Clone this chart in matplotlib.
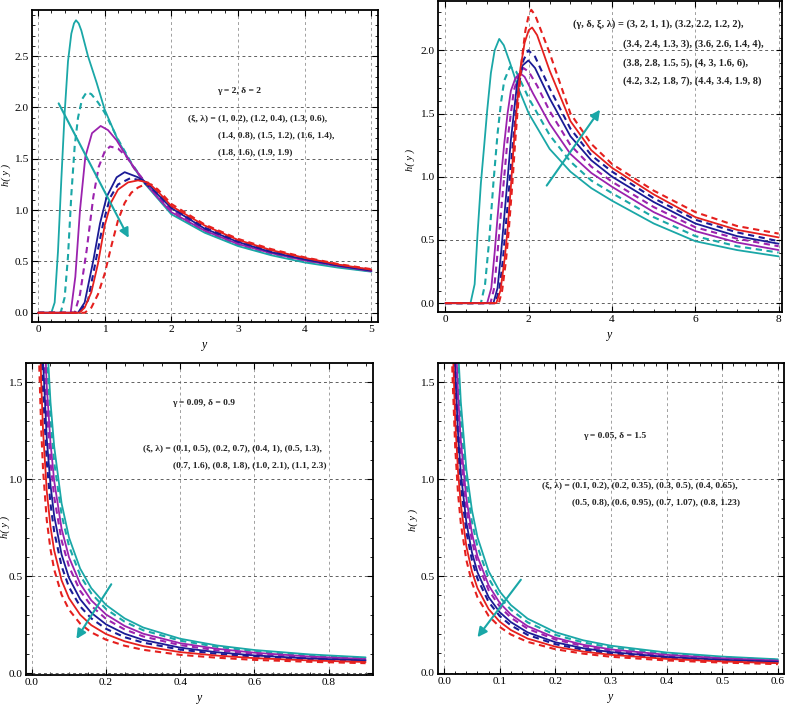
import matplotlib.pyplot as plt
from matplotlib.ticker import MultipleLocator, FormatStrFormatter

plt.rcParams['font.family'] = ['Liberation Serif', 'DejaVu Serif']

# ---- panel (a): gamma = 2, delta = 2 ----
A_CYAN_X = [0, 0.2, 0.25, 0.3, 0.35, 0.4, 0.45, 0.5, 0.54, 0.57, 0.61, 0.65, 0.75, 0.88, 1.0, 1.2, 1.4, 1.6, 1.8, 2.0, 2.5, 3.0, 3.5, 4.0, 4.5, 5.0]
A_CYAN_Y = [0, 0, 0.1, 0.6, 1.3, 1.95, 2.45, 2.72, 2.82, 2.85, 2.82, 2.75, 2.5, 2.24, 1.98, 1.68, 1.45, 1.26, 1.11, 0.96, 0.78, 0.65, 0.56, 0.49, 0.44, 0.40]
A_CYAN_D_X = [0, 0.34, 0.4, 0.45, 0.5, 0.55, 0.6, 0.66, 0.73, 0.8, 0.9, 1.0, 1.1, 1.2, 1.4, 1.6, 1.8, 2.0, 2.5, 3.0, 3.5, 4.0, 4.5, 5.0]
A_CYAN_D_Y = [0, 0, 0.15, 0.55, 1.15, 1.62, 1.9, 2.08, 2.15, 2.13, 2.05, 1.95, 1.82, 1.69, 1.46, 1.27, 1.12, 0.97, 0.79, 0.66, 0.57, 0.50, 0.45, 0.405]
A_PURP_X = [0, 0.49, 0.56, 0.63, 0.71, 0.81, 0.94, 1.05, 1.18, 1.33, 1.6, 1.8, 2.0, 2.5, 3.0, 3.5, 4.0, 4.5, 5.0]
A_PURP_Y = [0, 0, 0.35, 1.0, 1.52, 1.75, 1.82, 1.78, 1.68, 1.52, 1.27, 1.12, 0.98, 0.80, 0.67, 0.58, 0.51, 0.455, 0.405]
A_PURP_D_X = [0, 0.55, 0.63, 0.73, 0.83, 0.91, 1.0, 1.08, 1.2, 1.33, 1.45, 1.6, 1.8, 2.0, 2.5, 3.0, 3.5, 4.0, 4.5, 5.0]
A_PURP_D_Y = [0, 0, 0.18, 0.61, 1.13, 1.42, 1.57, 1.62, 1.6, 1.52, 1.40, 1.28, 1.13, 1.0, 0.81, 0.68, 0.59, 0.52, 0.46, 0.41]
A_BLUE_X = [0, 0.6, 0.7, 0.83, 0.93, 1.03, 1.18, 1.3, 1.5, 1.65, 1.8, 2.0, 2.5, 3.0, 3.5, 4.0, 4.5, 5.0]
A_BLUE_Y = [0, 0, 0.1, 0.51, 0.87, 1.13, 1.32, 1.37, 1.32, 1.26, 1.15, 1.02, 0.82, 0.69, 0.59, 0.52, 0.46, 0.41]
A_BLUE_D_X = [0, 0.62, 0.75, 0.88, 0.98, 1.08, 1.2, 1.38, 1.55, 1.8, 2.0, 2.5, 3.0, 3.5, 4.0, 4.5, 5.0]
A_BLUE_D_Y = [0, 0, 0.12, 0.55, 0.88, 1.12, 1.25, 1.31, 1.29, 1.16, 1.03, 0.83, 0.70, 0.60, 0.53, 0.465, 0.415]
A_RED_X = [0, 0.62, 0.7, 0.8, 0.9, 1.0, 1.1, 1.2, 1.35, 1.5, 1.65, 1.8, 2.0, 2.5, 3.0, 3.5, 4.0, 4.5, 5.0]
A_RED_Y = [0, 0, 0.05, 0.2, 0.48, 0.85, 1.08, 1.2, 1.27, 1.29, 1.27, 1.18, 1.04, 0.85, 0.71, 0.61, 0.535, 0.47, 0.42]
A_RED_D_X = [0, 0.7, 0.8, 0.9, 1.0, 1.1, 1.2, 1.3, 1.4, 1.5, 1.6, 1.7, 1.8, 2.0, 2.5, 3.0, 3.5, 4.0, 4.5, 5.0]
A_RED_D_Y = [0, 0, 0.05, 0.18, 0.38, 0.65, 0.9, 1.07, 1.17, 1.22, 1.25, 1.25, 1.2, 1.06, 0.86, 0.72, 0.62, 0.54, 0.475, 0.425]

# ---- panel (b): (gamma, delta, xi, lambda) varied ----
B_CYAN_X = [0, 0.6, 0.7, 0.77, 0.85, 0.93, 1.0, 1.09, 1.18, 1.29, 1.4, 1.55, 1.75, 2.0, 2.5, 3.0, 3.5, 4.0, 5.0, 6.0, 7.0, 8.0]
B_CYAN_Y = [0, 0, 0.15, 0.55, 0.95, 1.25, 1.52, 1.82, 2.0, 2.09, 2.04, 1.9, 1.7, 1.5, 1.22, 1.04, 0.91, 0.81, 0.63, 0.49, 0.42, 0.37]
B_CYAN_D_X = [0, 0.85, 0.95, 1.05, 1.15, 1.25, 1.33, 1.41, 1.55, 1.7, 2.0, 2.5, 3.0, 3.5, 4.0, 5.0, 6.0, 7.0, 8.0]
B_CYAN_D_Y = [0, 0, 0.15, 0.5, 0.95, 1.34, 1.58, 1.76, 1.87, 1.83, 1.62, 1.33, 1.12, 0.97, 0.87, 0.68, 0.53, 0.45, 0.40]
B_PURP_X = [0, 1.0, 1.1, 1.18, 1.25, 1.33, 1.41, 1.49, 1.57, 1.68, 1.79, 1.9, 2.1, 2.5, 3.0, 3.5, 4.0, 5.0, 6.0, 7.0, 8.0]
B_PURP_Y = [0, 0, 0.12, 0.4, 0.68, 0.98, 1.26, 1.5, 1.68, 1.78, 1.82, 1.79, 1.66, 1.42, 1.18, 1.03, 0.92, 0.72, 0.57, 0.48, 0.42]
B_PURP_D_X = [0, 1.08, 1.17, 1.25, 1.33, 1.41, 1.49, 1.57, 1.64, 1.75, 1.87, 2.0, 2.2, 2.5, 3.0, 3.5, 4.0, 5.0, 6.0, 7.0, 8.0]
B_PURP_D_Y = [0, 0, 0.12, 0.4, 0.71, 1.0, 1.29, 1.5, 1.68, 1.8, 1.86, 1.83, 1.72, 1.52, 1.25, 1.08, 0.96, 0.76, 0.60, 0.51, 0.45]
B_BLUE_X = [0, 1.15, 1.25, 1.33, 1.41, 1.49, 1.57, 1.65, 1.72, 1.85, 1.99, 2.15, 2.5, 3.0, 3.5, 4.0, 5.0, 6.0, 7.0, 8.0]
B_BLUE_Y = [0, 0, 0.12, 0.38, 0.68, 0.98, 1.29, 1.53, 1.74, 1.88, 1.92, 1.86, 1.62, 1.32, 1.13, 1.0, 0.80, 0.63, 0.53, 0.47]
B_BLUE_D_X = [0, 1.2, 1.3, 1.38, 1.45, 1.53, 1.6, 1.68, 1.76, 1.87, 1.99, 2.15, 2.5, 3.0, 3.5, 4.0, 5.0, 6.0, 7.0, 8.0]
B_BLUE_D_Y = [0, 0, 0.12, 0.35, 0.62, 0.92, 1.2, 1.48, 1.72, 1.92, 2.0, 1.95, 1.7, 1.38, 1.17, 1.04, 0.83, 0.66, 0.56, 0.49]
B_RED_X = [0, 1.22, 1.32, 1.42, 1.49, 1.57, 1.64, 1.72, 1.8, 1.9, 2.0, 2.08, 2.2, 2.5, 3.0, 3.5, 4.0, 5.0, 6.0, 7.0, 8.0]
B_RED_Y = [0, 0, 0.1, 0.35, 0.58, 0.92, 1.26, 1.58, 1.86, 2.06, 2.16, 2.18, 2.12, 1.84, 1.44, 1.21, 1.07, 0.86, 0.68, 0.58, 0.52]
B_RED_D_X = [0, 1.28, 1.36, 1.45, 1.52, 1.6, 1.67, 1.75, 1.83, 1.92, 2.0, 2.06, 2.15, 2.5, 3.0, 3.5, 4.0, 5.0, 6.0, 7.0, 8.0]
B_RED_D_Y = [0, 0, 0.1, 0.33, 0.58, 0.92, 1.26, 1.6, 1.92, 2.16, 2.28, 2.32, 2.28, 1.98, 1.5, 1.26, 1.1, 0.89, 0.72, 0.61, 0.55]

# ---- panel (c): gamma = 0.09, delta = 0.9 ----
C_X = [0.015, 0.02, 0.025, 0.03, 0.04, 0.05, 0.06, 0.08, 0.10, 0.13, 0.16, 0.20, 0.25, 0.30, 0.40, 0.50, 0.60, 0.75, 0.90]
C_CYAN = [4.67, 3.50, 2.80, 2.33, 1.75, 1.40, 1.17, 0.876, 0.70, 0.54, 0.439, 0.352, 0.283, 0.236, 0.178, 0.143, 0.12, 0.097, 0.082]
C_CYAN_D = [4.34, 3.25, 2.60, 2.17, 1.63, 1.31, 1.09, 0.818, 0.656, 0.505, 0.412, 0.331, 0.266, 0.222, 0.168, 0.136, 0.114, 0.092, 0.078]
C_PURP = [3.94, 2.96, 2.37, 1.97, 1.48, 1.19, 0.992, 0.745, 0.598, 0.462, 0.376, 0.303, 0.244, 0.204, 0.155, 0.126, 0.106, 0.086, 0.073]
C_PURP_D = [3.61, 2.71, 2.17, 1.81, 1.36, 1.09, 0.910, 0.685, 0.550, 0.425, 0.348, 0.280, 0.226, 0.190, 0.145, 0.118, 0.100, 0.082, 0.070]
C_BLUE = [3.21, 2.41, 1.93, 1.61, 1.21, 0.972, 0.812, 0.612, 0.492, 0.382, 0.312, 0.252, 0.204, 0.172, 0.132, 0.108, 0.092, 0.076, 0.066]
C_BLUE_D = [2.88, 2.16, 1.73, 1.45, 1.09, 0.874, 0.731, 0.552, 0.444, 0.345, 0.283, 0.229, 0.186, 0.158, 0.122, 0.100, 0.086, 0.072, 0.062]
C_RED = [2.48, 1.87, 1.50, 1.25, 0.94, 0.756, 0.633, 0.479, 0.387, 0.302, 0.248, 0.202, 0.165, 0.140, 0.109, 0.091, 0.078, 0.066, 0.058]
C_RED_D = [2.09, 1.57, 1.26, 1.05, 0.79, 0.64, 0.535, 0.405, 0.328, 0.256, 0.211, 0.173, 0.142, 0.121, 0.095, 0.080, 0.069, 0.059, 0.052]

# ---- panel (d): gamma = 0.05, delta = 1.5 ----
D_X = [0.01, 0.0125, 0.015, 0.02, 0.025, 0.03, 0.04, 0.05, 0.06, 0.08, 0.10, 0.12, 0.15, 0.20, 0.25, 0.30, 0.40, 0.50, 0.60]
D_CYAN = [4.20, 3.36, 2.80, 2.10, 1.68, 1.40, 1.05, 0.84, 0.70, 0.525, 0.42, 0.35, 0.28, 0.21, 0.168, 0.14, 0.105, 0.084, 0.070]
D_CYAN_D = [3.90, 3.12, 2.60, 1.95, 1.56, 1.30, 0.976, 0.781, 0.651, 0.488, 0.391, 0.326, 0.261, 0.196, 0.157, 0.131, 0.098, 0.079, 0.067]
D_PURP = [3.60, 2.88, 2.40, 1.80, 1.44, 1.20, 0.901, 0.721, 0.601, 0.452, 0.361, 0.301, 0.241, 0.181, 0.145, 0.121, 0.093, 0.075, 0.063]
D_PURP_D = [3.40, 2.72, 2.27, 1.70, 1.36, 1.13, 0.851, 0.681, 0.568, 0.427, 0.342, 0.285, 0.228, 0.172, 0.138, 0.115, 0.088, 0.071, 0.060]
D_BLUE = [3.10, 2.48, 2.07, 1.55, 1.24, 1.03, 0.777, 0.622, 0.519, 0.391, 0.313, 0.262, 0.209, 0.158, 0.127, 0.107, 0.082, 0.067, 0.057]
D_BLUE_D = [2.90, 2.32, 1.93, 1.45, 1.16, 0.968, 0.727, 0.582, 0.486, 0.366, 0.293, 0.245, 0.196, 0.148, 0.119, 0.100, 0.078, 0.063, 0.053]
D_RED = [2.60, 2.08, 1.74, 1.30, 1.04, 0.870, 0.653, 0.523, 0.437, 0.329, 0.264, 0.221, 0.177, 0.135, 0.110, 0.093, 0.072, 0.059, 0.050]
D_RED_D = [2.31, 1.85, 1.54, 1.16, 0.927, 0.773, 0.582, 0.467, 0.390, 0.294, 0.237, 0.198, 0.160, 0.122, 0.099, 0.083, 0.064, 0.053, 0.045]

CYAN, PURPLE, BLUE, RED = "#1AA7A7", "#9B22AE", "#1B1B95", "#E5201E"
COLORS = [CYAN, CYAN, PURPLE, PURPLE, BLUE, BLUE, RED, RED]
DASHED = [False, True] * 4

W, H = 787, 709
fig = plt.figure(figsize=(W / 100, H / 100), dpi=100)
fig.patch.set_facecolor("white")


def frame(left, top, right, bottom):
    return fig.add_axes([left / W, 1 - bottom / H, (right - left) / W, (bottom - top) / H])


def style(ax, xlim, ylim, xmaj, xmin, ymaj, ymin, xfmt, yfmt, ylab_px):
    ax.set_xlim(*xlim)
    ax.set_ylim(*ylim)
    ax.xaxis.set_major_locator(MultipleLocator(xmaj))
    ax.xaxis.set_minor_locator(MultipleLocator(xmin))
    ax.yaxis.set_major_locator(MultipleLocator(ymaj))
    ax.yaxis.set_minor_locator(MultipleLocator(ymin))
    ax.xaxis.set_major_formatter(FormatStrFormatter(xfmt))
    ax.yaxis.set_major_formatter(FormatStrFormatter(yfmt))
    ax.tick_params(which="both", direction="in", top=True, right=True, labelsize=8.2, pad=2.5)
    ax.tick_params(which="major", length=4, width=0.8)
    ax.tick_params(which="minor", length=2, width=0.6)
    ax.xaxis.grid(True, ls=(0, (3, 3)), color="#a0a0a0", lw=0.7)
    ax.yaxis.grid(True, ls=(0, (3, 3)), color="#606060", lw=0.7)
    ax.set_axisbelow(True)
    for s in ax.spines.values():
        s.set_linewidth(1.3)
    ax.set_xlabel("y", fontstyle="italic", fontsize=8.5, labelpad=3)
    ax.set_ylabel("h( y )", fontstyle="italic", fontsize=7.5)
    ax.yaxis.set_label_coords(ylab_px[0] / W, 1 - ylab_px[1] / H, transform=fig.transFigure)


def curves(ax, pairs):
    for (x, y), c, d in zip(pairs, COLORS, DASHED):
        ax.plot(x, y, color=c, lw=1.3 if not d else 1.5,
                ls=(0, (3, 2.2)) if d else "-", solid_capstyle="round")


def arrow(ax, start, end):
    ax.annotate("", xy=end, xytext=start,
                arrowprops=dict(arrowstyle="-|>", color=CYAN, lw=1.5, mutation_scale=14,
                                shrinkA=0, shrinkB=0))


def label(px, py, s, fs=6.8):
    fig.text(px / W, 1 - py / H, s, fontsize=fs, fontweight="bold",
             ha="left", va="center", color="#222222")


# panel (a)
ax1 = frame(32, 10, 378, 322)
style(ax1, (-0.09, 5.1), (-0.09, 2.95), 1, 0.2, 0.5, 0.1, "%g", "%.1f", (11, 175))
curves(ax1, [(A_CYAN_X, A_CYAN_Y), (A_CYAN_D_X, A_CYAN_D_Y), (A_PURP_X, A_PURP_Y),
             (A_PURP_D_X, A_PURP_D_Y), (A_BLUE_X, A_BLUE_Y), (A_BLUE_D_X, A_BLUE_D_Y),
             (A_RED_X, A_RED_Y), (A_RED_D_X, A_RED_D_Y)])
arrow(ax1, (0.31, 2.04), (1.36, 0.73))
label(217, 91, "γ = 2, δ = 2")
label(188, 118, "(ξ, λ) = (1, 0.2), (1.2, 0.4), (1.3, 0.6),")
label(218, 135, "(1.4, 0.8), (1.5, 1.2), (1.6, 1.4),")
label(218, 152, "(1.8, 1.6), (1.9, 1.9)")

# panel (b)
ax2 = frame(438, 1, 782, 312)
style(ax2, (-0.18, 8.08), (-0.07, 2.39), 2, 0.5, 0.5, 0.1, "%g", "%.1f", (415, 160))
curves(ax2, [(B_CYAN_X, B_CYAN_Y), (B_CYAN_D_X, B_CYAN_D_Y), (B_PURP_X, B_PURP_Y),
             (B_PURP_D_X, B_PURP_D_Y), (B_BLUE_X, B_BLUE_Y), (B_BLUE_D_X, B_BLUE_D_Y),
             (B_RED_X, B_RED_Y), (B_RED_D_X, B_RED_D_Y)])
arrow(ax2, (2.43, 0.93), (3.71, 1.53))
label(573, 24, "(γ, δ, ξ, λ) = (3, 2, 1, 1), (3.2, 2.2, 1.2, 2),", 7.5)
label(623, 44, "(3.4, 2.4, 1.3, 3), (3.6, 2.6, 1.4, 4),", 7.5)
label(623, 63, "(3.8, 2.8, 1.5, 5), (4, 3, 1.6, 6),", 7.5)
label(623, 81, "(4.2, 3.2, 1.8, 7), (4.4, 3.4, 1.9, 8)", 7.5)

# panel (c)
ax3 = frame(26, 363, 373, 675)
style(ax3, (-0.016, 0.92), (-0.009, 1.6), 0.2, 0.05, 0.5, 0.1, "%.1f", "%.1f", (10, 527))
curves(ax3, [(C_X, C_CYAN), (C_X, C_CYAN_D), (C_X, C_PURP), (C_X, C_PURP_D),
             (C_X, C_BLUE), (C_X, C_BLUE_D), (C_X, C_RED), (C_X, C_RED_D)])
arrow(ax3, (0.214, 0.459), (0.12, 0.177))
label(172, 403, "γ = 0.09, δ = 0.9")
label(143, 448, "(ξ, λ) = (0.1, 0.5), (0.2, 0.7), (0.4, 1), (0.5, 1.3),")
label(173, 465, "(0.7, 1.6), (0.8, 1.8), (1.0, 2.1), (1.1, 2.3)")

# panel (d)
ax4 = frame(438, 363, 784, 674)
style(ax4, (-0.011, 0.611), (-0.006, 1.6), 0.1, 0.02, 0.5, 0.1, "%.1f", "%.1f", (418, 520))
curves(ax4, [(D_X, D_CYAN), (D_X, D_CYAN_D), (D_X, D_PURP), (D_X, D_PURP_D),
             (D_X, D_BLUE), (D_X, D_BLUE_D), (D_X, D_RED), (D_X, D_RED_D)])
arrow(ax4, (0.138, 0.481), (0.06, 0.184))
label(583, 436, "γ = 0.05, δ = 1.5")
label(542, 485, "(ξ, λ) = (0.1, 0.2), (0.2, 0.35), (0.3, 0.5), (0.4, 0.65),")
label(572, 502, "(0.5, 0.8), (0.6, 0.95), (0.7, 1.07), (0.8, 1.23)")

fig.savefig("out.png", dpi=100, facecolor="white")
